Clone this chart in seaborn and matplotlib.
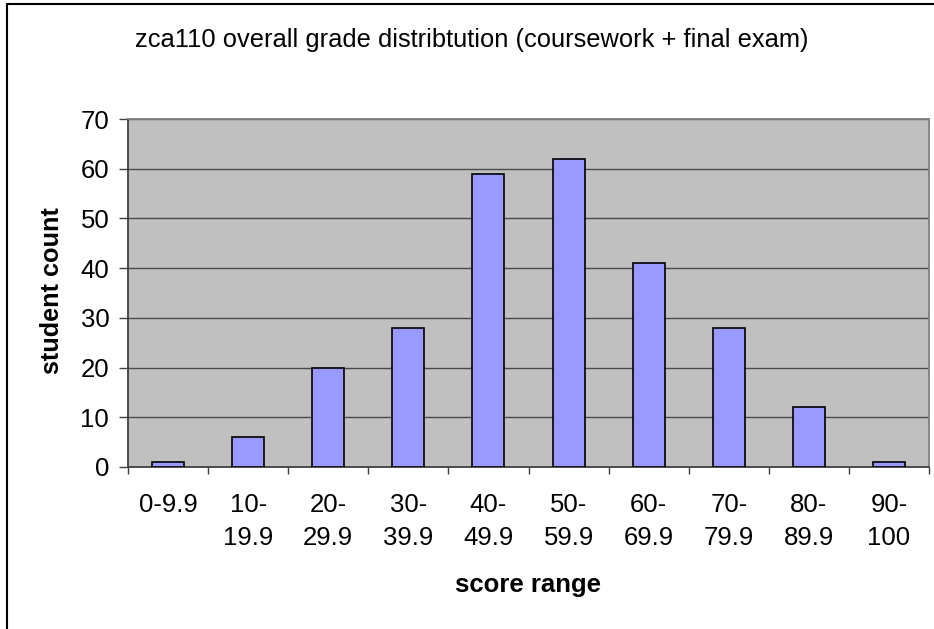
import matplotlib
matplotlib.use("Agg")
import matplotlib.pyplot as plt
import seaborn as sns
import pandas as pd
import numpy as np
from matplotlib.lines import Line2D

# ---- data ----
categories = ["0-9.9", "10-\n19.9", "20-\n29.9", "30-\n39.9", "40-\n49.9",
              "50-\n59.9", "60-\n69.9", "70-\n79.9", "80-\n89.9", "90-\n100"]
counts = [1, 6, 20, 28, 59, 62, 41, 28, 12, 1]
y_ticks = [0, 10, 20, 30, 40, 50, 60, 70]

title = "zca110 overall grade distribtution (coursework + final exam)"
x_label = "score range"
y_label = "student count"

sns.set_theme(style="white")
plt.rcParams["font.family"] = ["Liberation Sans", "DejaVu Sans"]

W, H = 934, 629
fig = plt.figure(figsize=(W / 100, H / 100), dpi=100)
fig.patch.set_facecolor("white")

left, right, top, bottom = 128, 929, 119, 467
ax = fig.add_axes([left / W, 1 - bottom / H, (right - left) / W, (bottom - top) / H])

df = pd.DataFrame({"range": categories, "count": counts})
sns.barplot(data=df, x="range", y="count", color="#9999FF", saturation=1,
            edgecolor="black", linewidth=1.2, width=0.4, ax=ax, zorder=3)

ax.set_facecolor("#C0C0C0")
ax.set_xlim(-0.5, len(categories) - 0.5)
ax.set_ylim(0, 70)
ax.set_yticks(y_ticks)
ax.set_yticklabels([str(v) for v in y_ticks])
ax.yaxis.grid(True, color="#4a4a4a", linewidth=1.0, zorder=1)
ax.xaxis.grid(False)
ax.set_axisbelow(True)
ax.set_xlabel("")
ax.set_ylabel("")

for s in ["top", "right"]:
    ax.spines[s].set_color("#808080")
    ax.spines[s].set_linewidth(1.3)
for s in ["left", "bottom"]:
    ax.spines[s].set_color("#404040")
    ax.spines[s].set_linewidth(1.3)

ax.set_xticks(np.arange(-0.5, len(categories), 1), minor=True)
ax.tick_params(axis="x", which="major", length=0, pad=19, labelsize=18.5, labelcolor="black")
ax.tick_params(axis="x", which="minor", length=5, width=1.0, color="#404040", direction="out", bottom=True)
ax.tick_params(axis="y", which="major", length=6.5, width=1.0, color="#404040", direction="out",
               pad=7, labelsize=18.5, labelcolor="black", left=True)
for lbl in ax.get_xticklabels():
    lbl.set_linespacing(1.45)

fig.text(472 / W, 1 - 47 / H, title, ha="center", va="baseline", fontsize=18.4, color="black")
fig.text(528 / W, 1 - 585 / H, x_label, ha="center", va="center", fontsize=18.5,
         fontweight="bold", color="black")
fig.text(52 / W, 1 - 291 / H, y_label, ha="center", va="center", rotation=90, fontsize=18.2,
         fontweight="bold", color="black")

# outer chart-area frame
fig.add_artist(Line2D([7 / W, 7 / W], [0, 1 - 4 / H], transform=fig.transFigure,
                      color="black", linewidth=1.5))
fig.add_artist(Line2D([7 / W, 1], [1 - 4 / H, 1 - 4 / H], transform=fig.transFigure,
                      color="black", linewidth=1.5))

fig.savefig("out.png", dpi=100)
